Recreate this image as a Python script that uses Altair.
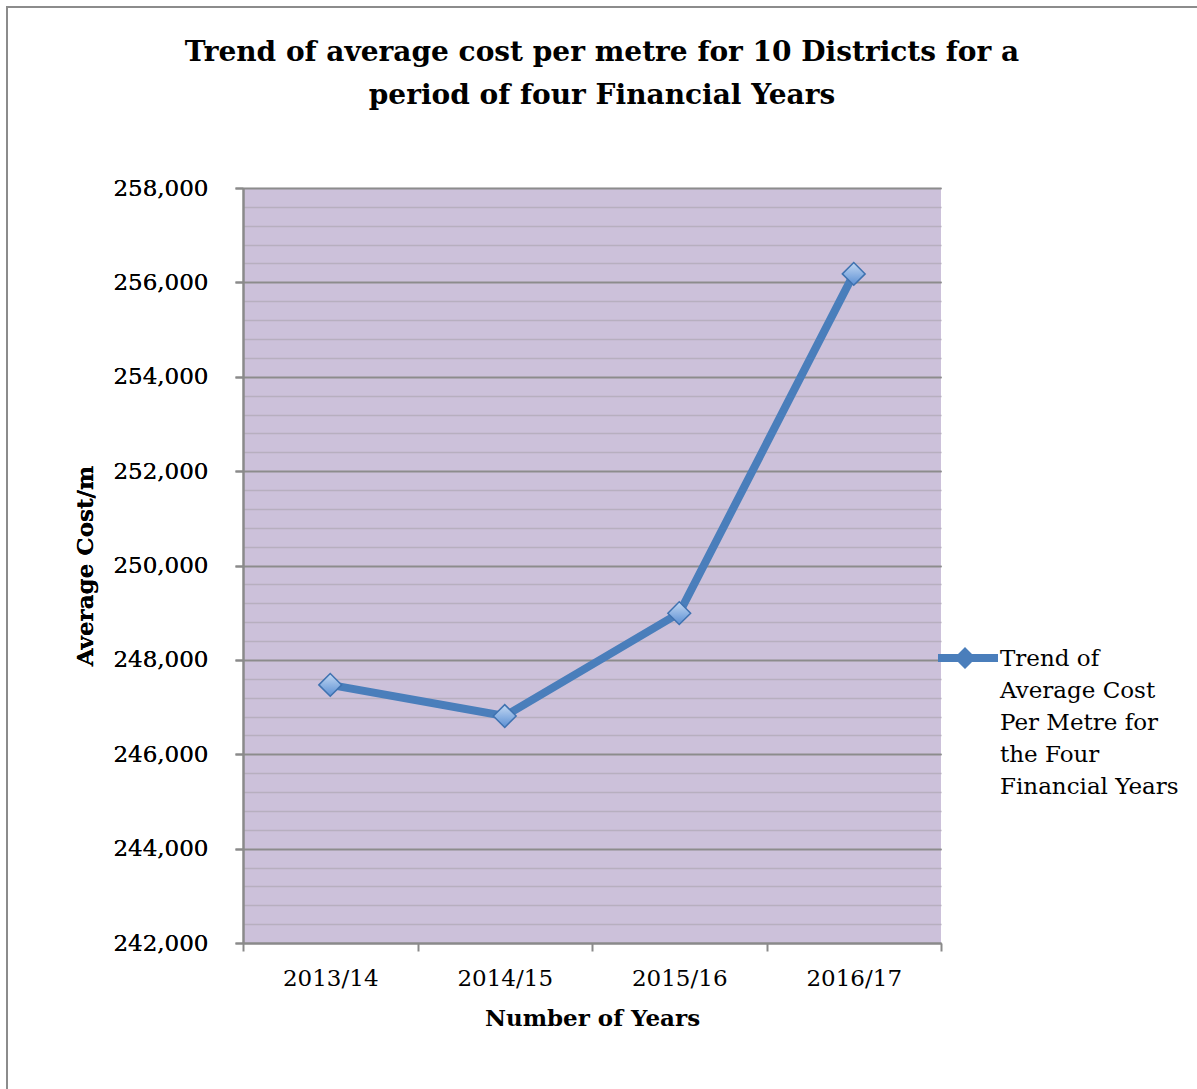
import altair as alt
import pandas as pd

years = ["2013/14", "2014/15", "2015/16", "2016/17"]
costs = [247470, 246810, 248990, 256180]
series_name = ["Trend of", "Average Cost", "Per Metre for", "the Four", "Financial Years"]

df = pd.DataFrame({"year": years, "cost": costs, "series": ["s"] * len(years)})

FONT = "DejaVu Serif"
W, H = 698, 755

x = alt.X("year:N", sort=years,
          scale=alt.Scale(paddingInner=0, paddingOuter=0),
          axis=alt.Axis(title="Number of Years", labelAngle=0, tickBand="extent",
                        labelFont=FONT, labelFontSize=23, labelColor="black",
                        labelPadding=16, titleFont=FONT, titleFontSize=23,
                        titleFontWeight="bold", titleColor="black", titlePadding=17,
                        domainColor="#8a8a8a", domainWidth=2, tickColor="#8a8a8a",
                        tickWidth=2, tickSize=8, grid=False))

y_major = alt.Y("cost:Q",
                scale=alt.Scale(domain=[242000, 258000], nice=False, zero=False),
                axis=alt.Axis(title="Average Cost/m", values=list(range(242000, 258001, 2000)),
                              format=",.0f", formatType="number",
                              labelFont=FONT, labelFontSize=23, labelColor="black",
                              labelPadding=27, titleFont=FONT, titleFontSize=23,
                              titleFontWeight="bold", titleColor="black",
                              titleX=-158, titleY=H / 2, titleAngle=-90,
                              titleBaseline="middle", titleAlign="center",
                              domainColor="#8a8a8a", domainWidth=2, tickColor="#8a8a8a",
                              tickWidth=2, tickSize=8, grid=True, gridColor="#8c8c8c",
                              gridWidth=1.5))

y_minor = alt.Y("cost:Q",
                scale=alt.Scale(domain=[242000, 258000], nice=False, zero=False),
                axis=alt.Axis(title=None, orient="right", values=list(range(242000, 258001, 400)),
                              labels=False, ticks=False, domain=False, grid=True,
                              gridColor="#b7afbf", gridWidth=1.5))

frame = alt.Chart(pd.DataFrame({"f": [0]})).mark_rect(
    fill=None, stroke="#8c8c8c", strokeWidth=2
).encode(x=alt.value(-236), x2=alt.value(W + 400), y=alt.value(-181), y2=alt.value(H + 400))

minor = alt.Chart(df).mark_point(opacity=0).encode(x=x, y=y_minor)

legend_path = ("M-3,-0.4 L-1.0,-0.4 L-0.3,-1.1 L0.4,-0.4 L3,-0.4 L3,0.4 "
               "L0.4,0.4 L-0.3,1.1 L-1.0,0.4 L-3,0.4 Z")

line = alt.Chart(df).mark_line(strokeWidth=8, strokeCap="round", strokeJoin="round").encode(
    x=x, y=y_major,
    color=alt.Color("series:N", scale=alt.Scale(range=["#4a7ebb"]),
                    legend=alt.Legend(title=series_name, titleOrient="right",
                                      titleFont=FONT, titleFontSize=23, titleFontWeight="normal",
                                      titleColor="black", titleLineHeight=32,
                                      titleBaseline="top", titleAnchor="start",
                                      titlePadding=2, titleLimit=400,
                                      labelExpr="''", labelFontSize=1, labelOffset=0,
                                      orient="none", legendX=W + 17, legendY=H * 0.62 - 8,
                                      symbolType=legend_path, symbolSize=400,
                                      symbolFillColor="#4a7ebb", symbolStrokeWidth=0,
                                      padding=0))
)

points = alt.Chart(df).mark_point(
    shape="diamond", size=520, filled=True, opacity=1,
    fill=alt.Gradient(gradient="linear", x1=0, y1=0, x2=0, y2=1,
                      stops=[alt.GradientStop(offset=0, color="#c3d8f3"),
                             alt.GradientStop(offset=1, color="#5b8fd3")]),
    stroke="#3f72b0", strokeWidth=1.5
).encode(x=x, y=y_major)

chart = alt.layer(frame, minor, line, points).resolve_scale(y="shared").resolve_axis(
    y="independent"
).properties(
    width=W, height=H,
    title=alt.TitleParams(
        text=["Trend of average cost per metre for 10 Districts for a",
              "period of four Financial Years"],
        font=FONT, fontSize=28, fontWeight="bold", color="black",
        anchor="middle", offset=-104, lineHeight=43, dx=10),
    padding={"left": 243, "top": 188, "right": 256, "bottom": 146},
    autosize=alt.AutoSizeParams(type="none"),
).configure(background="white").configure_view(fill="#ccc1da", stroke=None)

chart.save("out.html", embed_options={"renderer": "svg", "actions": False})
